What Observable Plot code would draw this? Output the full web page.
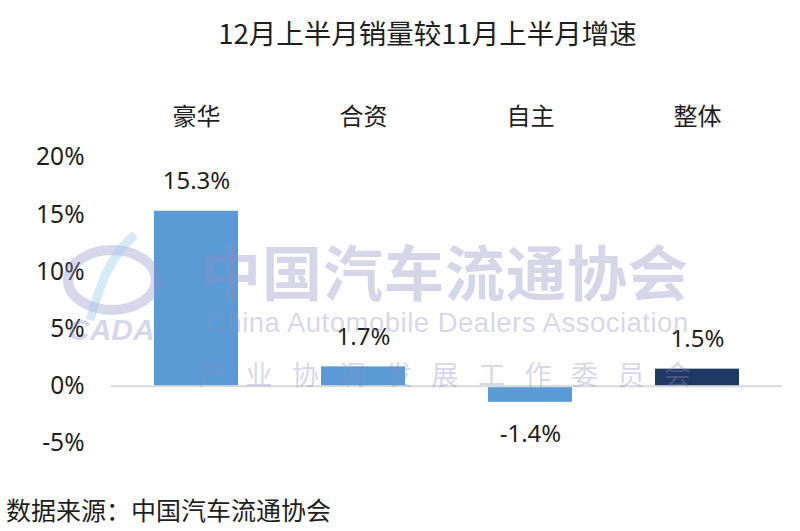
<!DOCTYPE html>
<html>
<head>
<meta charset="utf-8">
<script src="https://cdn.jsdelivr.net/npm/d3@7"></script>
<script src="https://cdn.jsdelivr.net/npm/@observablehq/plot@0.6"></script>
<style>
  html, body { margin: 0; padding: 0; background: #fff; }
  #wrap { position: relative; width: 800px; height: 531px; overflow: hidden;
          font-family: "Noto Sans", "Noto Sans CJK SC", sans-serif; color: #1e1e1e; }
  #title { position: absolute; left: 55px; top: 13px; width: 745px; text-align: center;
           font-size: 27.5px; line-height: 38px; font-family: "Noto Sans CJK SC", "Noto Sans", sans-serif; }
  #chart { position: absolute; left: 0; top: 66px; }
  #caption { position: absolute; left: 6px; top: 491px; font-size: 25px; line-height: 36px;
             font-family: "Noto Sans CJK SC", sans-serif; }
  #wm { position: absolute; left: 0; top: 0; width: 800px; height: 531px; pointer-events: none; }
  .wm { position: absolute; color: rgba(140, 140, 195, 0.36); white-space: nowrap; }
</style>
</head>
<body>
<div id="wrap">
  <div id="title"></div>
  <div id="chart"></div>
  <div id="caption"></div>
  <div id="wm">
    <div class="wm" style="left:201px;top:230px;font-size:60px;line-height:80px;font-weight:700;font-family:'Noto Sans CJK SC';letter-spacing:1px;">中国汽车流通协会</div>
    <div class="wm" style="left:206px;top:306px;font-size:27.5px;line-height:34px;font-family:'Liberation Sans';letter-spacing:0.5px;">China Automobile Dealers Association</div>
    <div class="wm" style="left:199px;top:355px;font-size:27px;line-height:38px;font-family:'Noto Sans CJK SC';letter-spacing:19.5px;">产业协调发展工作委员会</div>
    <div class="wm" style="left:68px;top:312px;font-size:30px;line-height:36px;font-weight:700;font-style:italic;font-family:'Liberation Sans';">CADA</div>
    <svg class="wm" style="left:60px;top:225px;" width="110" height="100">
      <ellipse cx="52" cy="55" rx="44" ry="30" fill="none" stroke="rgba(140,140,195,0.35)" stroke-width="10"/>
      <path d="M75 10 C 50 30, 40 60, 30 95" fill="none" stroke="rgba(150,200,235,0.4)" stroke-width="9"/>
    </svg>
  </div>
</div>
<script>
const titleText = "12月上半月销量较11月上半月增速";
const captionText = "数据来源：中国汽车流通协会";
const categories = ["豪华", "合资", "自主", "整体"];
const values = [15.3, 1.7, -1.4, 1.5];
const barColors = ["#5B9BD5", "#5B9BD5", "#5B9BD5", "#203864"];
const yTicks = [-5, 0, 5, 10, 15, 20];

document.getElementById("title").textContent = titleText;
document.getElementById("caption").textContent = captionText;

const data = categories.map((c, i) => ({ cat: c, value: values[i], color: barColors[i] }));

const chart = Plot.plot({
  width: 800,
  height: 414,
  marginLeft: 111,
  marginRight: 18,
  marginTop: 91,
  marginBottom: 37,
  style: { fontFamily: "'Noto Sans', 'Noto Sans CJK SC', sans-serif", fontSize: "24px", color: "#1e1e1e", background: "transparent" },
  x: { domain: categories, paddingInner: 0.5, paddingOuter: 0.25, axis: null, label: null },
  y: { domain: [-5, 20], label: null },
  marks: [
    Plot.axisX({ anchor: "top", tickSize: 0, tickPadding: 33, fontSize: 24, label: null,
                 fontFamily: "'Noto Sans CJK SC', sans-serif" }),
    Plot.axisY({ ticks: yTicks, tickFormat: d => d + "%", tickSize: 0, tickPadding: 27, fontSize: 24.5, label: null }),
    Plot.barY(data, { x: "cat", y: "value", fill: "color" }),
    Plot.ruleY([0], { stroke: "#D9D9D9", strokeWidth: 2 }),
    Plot.text(data.filter(d => d.value >= 0), { x: "cat", y: "value", text: d => d.value.toFixed(1) + "%", dy: -30, fontSize: 24, fill: "#1e1e1e" }),
    Plot.text(data.filter(d => d.value < 0), { x: "cat", y: "value", text: d => d.value.toFixed(1) + "%", dy: 32, fontSize: 24, fill: "#1e1e1e" })
  ]
});
document.getElementById("chart").appendChild(chart);
</script>
</body>
</html>
